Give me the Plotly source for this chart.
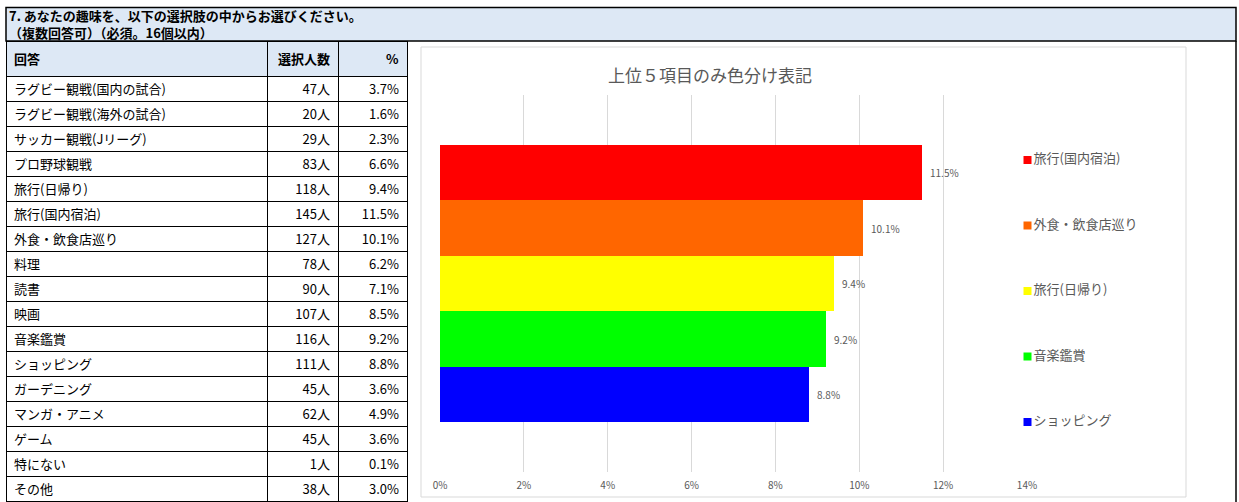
import plotly.graph_objects as go

# ---------------- data ----------------
title_line1 = "7. あなたの趣味を、以下の選択肢の中からお選びください。"
title_line2 = "（複数回答可）（必須。16個以内）"
header_labels = ["回答", "選択人数", "%"]

answers = [
    "ラグビー観戦(国内の試合)", "ラグビー観戦(海外の試合)", "サッカー観戦(Jリーグ)",
    "プロ野球観戦", "旅行(日帰り)", "旅行(国内宿泊)", "外食・飲食店巡り", "料理",
    "読書", "映画", "音楽鑑賞", "ショッピング", "ガーデニング", "マンガ・アニメ",
    "ゲーム", "特にない", "その他",
]
counts = [47, 20, 29, 83, 118, 145, 127, 78, 90, 107, 116, 111, 45, 62, 45, 1, 38]
percents = [3.7, 1.6, 2.3, 6.6, 9.4, 11.5, 10.1, 6.2, 7.1, 8.5, 9.2, 8.8, 3.6, 4.9, 3.6, 0.1, 3.0]

chart_title = "上位５項目のみ色分け表記"
top_colors = ["#ff0000", "#ff6600", "#ffff00", "#00ff00", "#0000ff"]
x_ticks = [0, 2, 4, 6, 8, 10, 12, 14]

# top five answers by count (as charted)
order = sorted(range(len(answers)), key=lambda i: counts[i], reverse=True)[:5]
top_labels = [answers[i] for i in order]
top_values = [percents[i] for i in order]

# ---------------- geometry helpers ----------------
W, H = 1239, 502
def px(x):
    return x / W
def py(y):
    return 1 - y / H

FONT = "Noto Sans CJK JP"
GRAY = "#595959"
FILL = "#dde8f5"

fig = go.Figure()

# table
fig.add_trace(go.Table(
    domain=dict(x=[px(6), px(407)], y=[0, py(41)]),
    columnwidth=[261, 71, 69],
    header=dict(
        values=[f"<b>{h}</b>" for h in header_labels],
        align=["left", "right", "right"],
        fill_color=FILL,
        line=dict(color="black", width=1),
        font=dict(family=FONT, size=13, color="black"),
        height=33,
    ),
    cells=dict(
        values=[answers, [f"{c}人" for c in counts], [f"{p:.1f}%" for p in percents]],
        align=["left", "right", "right"],
        fill_color="white",
        line=dict(color="black", width=1),
        font=dict(family=FONT, size=13, color="black"),
        height=25,
    ),
))

# bars
fig.add_trace(go.Bar(
    x=top_values, y=top_labels, orientation="h",
    marker=dict(color=top_colors, line=dict(width=0)),
    text=[f"\u2002{v:.1f}%" for v in top_values],
    textposition="outside",
    textfont=dict(family=FONT, size=10, color=GRAY),
    cliponaxis=False,
    showlegend=False,
    hoverinfo="skip",
))

# legend (drawn as markers + text on its own axes)
fig.add_trace(go.Scatter(
    x=[0] * len(top_labels), y=top_labels,
    mode="markers+text",
    marker=dict(symbol="square", size=8, color=top_colors),
    text=top_labels, textposition="middle right",
    textfont=dict(family=FONT, size=13, color=GRAY),
    xaxis="x2", yaxis="y2", cliponaxis=False,
    showlegend=False, hoverinfo="skip",
))

fig.update_layout(
    width=W, height=H, autosize=False,
    margin=dict(l=0, r=0, t=0, b=0, pad=0, autoexpand=False),
    showlegend=False,
    paper_bgcolor="white", plot_bgcolor="rgba(0,0,0,0)",
    font=dict(family=FONT, color=GRAY),
    bargap=0,
    xaxis=dict(
        domain=[px(440), px(1027)], range=[0, 14],
        tickvals=x_ticks, ticktext=[f"{t}%" for t in x_ticks],
        showgrid=True, gridcolor="#d9d9d9", gridwidth=1,
        zeroline=False, showline=False, ticks="", automargin=False,
        ticklabelstandoff=6,
        tickfont=dict(family=FONT, size=10, color=GRAY),
        anchor="y", fixedrange=True,
    ),
    yaxis=dict(
        domain=[py(472), py(95)],
        type="category", categoryorder="array", categoryarray=top_labels[::-1],
        range=[-1.40, 5.40], automargin=False,
        showticklabels=False, showgrid=False, zeroline=False, showline=False, ticks="",
        anchor="x", fixedrange=True,
    ),
    xaxis2=dict(
        domain=[px(1027.5), px(1180)], range=[0, 1], automargin=False,
        visible=False, anchor="y2", fixedrange=True,
    ),
    yaxis2=dict(
        domain=[py(454.75), py(127.25)],
        type="category", categoryorder="array", categoryarray=top_labels[::-1],
        range=[-0.5, 4.5], automargin=False,
        visible=False, anchor="x2", fixedrange=True,
    ),
    shapes=[
        # title band
        dict(type="rect", xref="paper", yref="paper",
             x0=px(6), x1=px(1236), y0=py(41), y1=py(7.5),
             fillcolor=FILL, line=dict(color="black", width=1.5), layer="below"),
        # chart area border
        dict(type="rect", xref="paper", yref="paper",
             x0=px(421), x1=px(1186), y0=py(497), y1=py(47),
             fillcolor="rgba(0,0,0,0)", line=dict(color="#d9d9d9", width=1)),
        # sheet right border
        dict(type="line", xref="paper", yref="paper",
             x0=px(1236), x1=px(1236), y0=0, y1=py(41),
             line=dict(color="black", width=1.5)),
    ],
    annotations=[
        dict(text=f"<b>{title_line1}</b>", xref="paper", yref="paper",
             x=px(8), y=py(15.5), xanchor="left", yanchor="middle", align="left",
             showarrow=False, borderpad=0,
             font=dict(family=FONT, size=13, color="black")),
        dict(text=f"<b>{title_line2}</b>", xref="paper", yref="paper",
             x=px(8), y=py(33), xanchor="left", yanchor="middle", align="left",
             showarrow=False, borderpad=0,
             font=dict(family=FONT, size=13, color="black")),
        dict(text=chart_title, xref="paper", yref="paper",
             x=px(710), y=py(75), xanchor="center", yanchor="middle", showarrow=False,
             font=dict(family=FONT, size=17, color=GRAY)),
    ],
)

fig.write_html(
    "out.html",
    config={"displayModeBar": False, "responsive": False},
    post_script="document.body.style.margin='0';document.body.style.overflow='hidden';",
)
